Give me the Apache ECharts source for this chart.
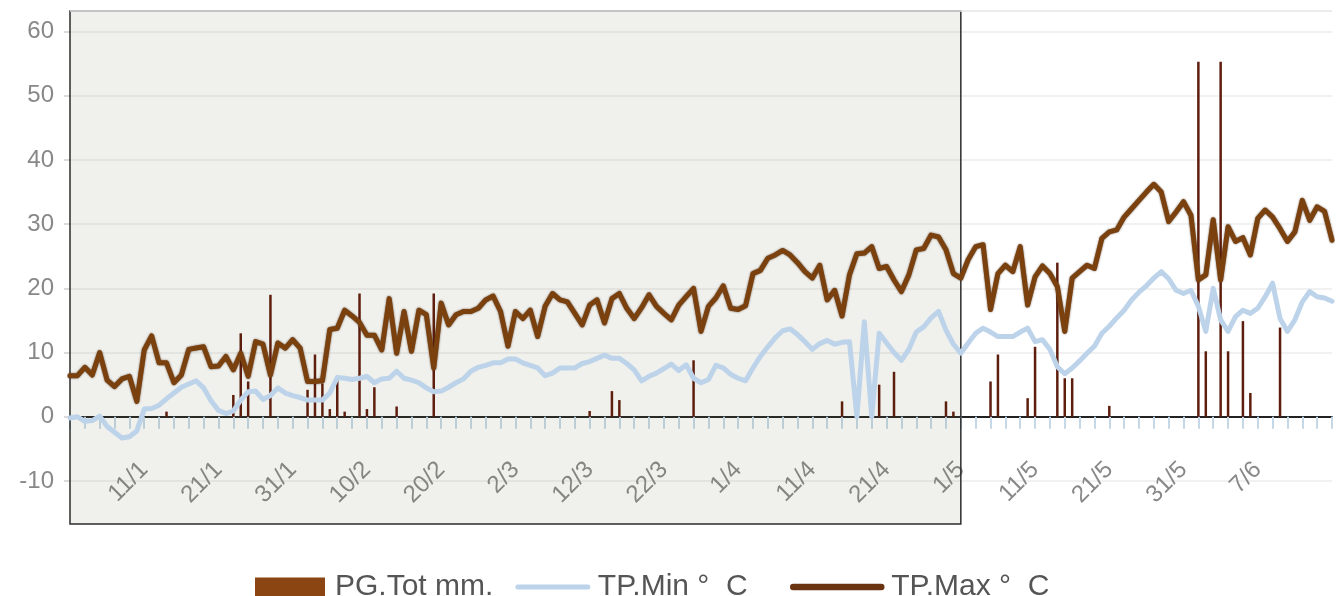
<!DOCTYPE html>
<html><head><meta charset="utf-8">
<script src="https://cdn.jsdelivr.net/npm/echarts@6/dist/echarts.min.js"></script>
<style>html,body{margin:0;padding:0;background:#fff}#c{width:1339px;height:596px}</style>
</head><body><div id="c"></div>
<script>
const categories = [
'1/1','2/1','3/1','4/1','5/1','6/1','7/1','8/1','9/1','10/1','11/1','12/1','13/1','14/1','15/1','16/1','17/1','18/1','19/1','20/1','21/1','22/1','23/1','24/1','25/1','26/1','27/1','28/1','29/1','30/1','31/1',
'1/2','2/2','3/2','4/2','5/2','6/2','7/2','8/2','9/2','10/2','11/2','12/2','13/2','14/2','15/2','16/2','17/2','18/2','19/2','20/2','21/2','22/2','23/2','24/2','25/2','26/2','27/2','28/2',
'1/3','2/3','3/3','4/3','5/3','6/3','7/3','8/3','9/3','10/3','11/3','12/3','13/3','14/3','15/3','16/3','17/3','18/3','19/3','20/3','21/3','22/3','23/3','24/3','25/3','26/3','27/3','28/3','29/3','30/3','31/3',
'1/4','2/4','3/4','4/4','5/4','6/4','7/4','8/4','9/4','10/4','11/4','12/4','13/4','14/4','15/4','16/4','17/4','18/4','19/4','20/4','21/4','22/4','23/4','24/4','25/4','26/4','27/4','28/4','29/4','30/4',
'1/5','2/5','3/5','4/5','5/5','6/5','7/5','8/5','9/5','10/5','11/5','12/5','13/5','14/5','15/5','16/5','17/5','18/5','19/5','20/5','21/5','22/5','23/5','24/5','25/5','26/5','27/5','28/5','29/5','30/5','31/5',
'1/6','1/6','2/6','2/6','3/6','4/6','4/6','5/6','6/6','7/6','8/6','9/6','10/6','11/6','12/6','13/6','14/6','15/6','16/6','17/6'
];

const tpMax = [
6.4,6.4,7.7,6.5,10.0,5.7,4.7,5.9,6.3,2.4,
10.4,12.6,8.4,8.4,5.3,6.5,10.5,10.7,10.9,7.8,
7.9,9.4,7.3,9.9,6.3,11.7,11.3,6.5,11.5,10.7,
12.0,10.7,5.5,5.5,5.6,13.6,13.8,16.6,15.7,14.7,
12.7,12.7,10.4,18.4,9.9,16.4,10.2,16.6,15.9,7.6,
17.7,14.3,15.9,16.4,16.4,16.9,18.2,18.8,16.4,11.0,
16.4,15.3,16.6,12.5,17.2,19.2,18.2,17.9,16.1,14.3,
17.4,18.2,14.6,18.4,19.2,16.9,15.3,17.0,19.0,17.2,
16.1,15.1,17.4,18.7,20.0,13.3,17.2,18.5,20.4,16.9,
16.7,17.3,22.3,22.8,24.7,25.2,25.9,25.2,24.0,22.6,
21.6,23.6,18.2,19.7,15.7,22.1,25.4,25.5,26.5,23.1,
23.4,21.3,19.5,22.1,26.0,26.2,28.3,28.0,26.0,22.3,
21.6,24.5,26.5,26.8,16.7,22.3,23.6,22.6,26.5,17.4,
21.8,23.5,22.3,20.3,13.3,21.6,22.6,23.6,23.1,27.8,
28.8,29.1,31.1,32.4,33.7,35.0,36.2,35.0,30.4,31.9,
33.5,31.4,21.3,22.1,30.7,21.3,29.6,27.3,27.9,25.2,
30.9,32.2,31.1,29.3,27.3,28.8,33.7,30.6,32.7,32.0,
27.5
];

const tpMin = [
-0.2,0.0,-0.7,-0.6,0.1,-1.5,-2.4,-3.3,-3.1,-2.2,
1.2,1.3,1.8,2.8,3.7,4.6,5.1,5.6,4.5,2.5,
1.0,0.5,0.9,2.6,3.9,4.0,2.7,3.3,4.5,3.7,
3.3,3.0,2.6,2.6,2.6,3.7,6.1,6.0,5.8,6.0,
6.3,5.3,5.9,6.0,7.1,6.0,5.7,5.3,4.5,3.9,
4.0,4.6,5.3,5.9,7.1,7.7,8.0,8.4,8.4,9.0,
9.0,8.4,8.0,7.6,6.4,6.8,7.6,7.6,7.6,8.3,
8.6,9.1,9.6,9.1,9.1,8.3,7.3,5.6,6.3,6.8,
7.5,8.2,7.2,8.1,6.0,5.3,5.8,8.0,7.6,6.6,
6.0,5.6,7.6,9.4,10.9,12.3,13.4,13.7,12.8,11.7,
10.5,11.4,11.9,11.3,11.6,11.7,0,14.8,0,13.0,
11.5,10.0,8.8,10.5,13.2,14.0,15.4,16.4,13.5,11.3,
9.9,11.5,13.0,13.8,13.2,12.5,12.5,12.5,13.2,13.8,
11.7,12.0,10.5,7.8,6.7,7.6,8.7,9.9,11.0,13.0,
14.1,15.4,16.6,18.2,19.4,20.4,21.6,22.6,21.5,19.7,
19.2,19.7,17.2,13.3,20.0,15.1,13.3,15.6,16.6,16.1,
16.9,18.7,20.8,15.3,13.3,15.1,17.9,19.5,18.7,18.5,
18.0
];

const pgTot = [
0,0,0,0,0,0,0,0,0,0,
0,0,0,0.8,0,0,0,0,0,0,
0,0,3.4,13.0,5.5,0,0,19.0,0,0,
0,0,4.2,9.7,5.2,1.2,5.7,0.8,0,19.2,
1.2,4.6,0,0,1.6,0,0,0,0,19.2,
0,0,0,0,0,0,0,0,0,0,
0,0,0,0,0,0,0,0,0,0,
0.9,0,0,4.0,2.6,0,0,0,0,0,
0,0,0,0,8.8,0,0,0,0,0,
0,0,0,0,0,0,0,0,0,0,
0,0,0,0,2.4,0,0,0,0,5.0,
0,7.0,0,0,0,0,0,0,2.4,0.8,
0,0,0,0,5.5,9.7,0,0,0,2.9,
10.9,0,0,24.0,6.0,6.0,0,0,0,0,
1.7,0,0,0,0,0,0,0,0,0,
0,0,55.3,10.2,0,55.3,10.2,0,14.9,3.7,
0,0,0,13.9,0,0,0,0,0,0,
0
];

const yTicks = [-10,0,10,20,30,40,50,60];
const shadeFrom = '1/1';
const shadeTo = '1/5';
const NAME_PG = 'PG.Tot mm.';
const NAME_MIN = 'TP.Min °  C';
const NAME_MAX = 'TP.Max °  C';
const FONT = 'Liberation Sans, Arial, sans-serif';

const legendText = {fontSize: 30, color: '#555', fontFamily: FONT, padding: [0, 0, 0, 5]};

const chart = echarts.init(document.getElementById('c'), null, {renderer:'canvas'});
chart.setOption({
  animation: false,
  backgroundColor: '#ffffff',
  textStyle: {fontFamily: FONT},
  grid: {left: 70, width: 1262, top: 11, bottom: 72, containLabel: false, outerBoundsMode: 'none'},
  legend: [
    {
      left: 250, top: 567, itemWidth: 70, itemHeight: 19, itemGap: 22,
      textStyle: legendText,
      data: [
        {name: NAME_PG, icon: 'rect', itemStyle: {color: '#8b4513', borderWidth: 0}},
        {name: NAME_MIN, itemStyle: {opacity: 0}, lineStyle: {width: 5, color: '#bcd3ea', cap: 'round'}}
      ]
    },
    {
      left: 785, top: 567, itemWidth: 88, itemHeight: 19,
      textStyle: legendText,
      data: [
        {name: NAME_MAX, itemStyle: {opacity: 0}, lineStyle: {width: 6.5, color: '#6a3410', cap: 'round'}}
      ]
    }
  ],
  xAxis: {
    type: 'category', data: categories, boundaryGap: false,
    axisLine: {onZero: true, lineStyle: {color: '#222', width: 2}},
    axisTick: {show: true, interval: 1, length: 12, lineStyle: {color: '#c4d8e8', width: 2}},
    axisLabel: {
      interval: function (i) { return i > 0 && i <= 160 && i % 10 === 0; },
      rotate: 45, margin: -58, fontSize: 24, color: '#888', fontFamily: FONT
    },
    splitLine: {show: false}
  },
  yAxis: {
    type: 'value', min: -16.7, max: 63.2,
    axisLine: {show: false},
    axisTick: {show: true, customValues: yTicks, length: 6, lineStyle: {color: '#cfcfcf', width: 1.5}},
    axisLabel: {customValues: yTicks, fontSize: 24, color: '#888', margin: 16, fontFamily: FONT},
    splitLine: {show: true, lineStyle: {color: '#ececec', width: 1.5}}
  },
  series: [
    {
      name: NAME_PG, type: 'bar', data: pgTot, barWidth: 2.5,
      itemStyle: {color: '#5e1e0e'},
      z: 2
    },
    {
      name: NAME_MIN, type: 'line', data: tpMin, symbol: 'none',
      lineStyle: {color: '#bcd3ea', width: 5, cap: 'round', join: 'round'},
      itemStyle: {color: '#bcd3ea'},
      markArea: {
        silent: true,
        itemStyle: {color: 'rgba(110,110,70,0.10)', borderColor: '#2d2d2d', borderWidth: 1.5},
        data: [[{xAxis: shadeFrom}, {xAxis: shadeTo}]]
      },
      markLine: {
        silent: true, symbol: 'none', label: {show: false},
        lineStyle: {color: '#e6e6e6', width: 1.5, type: 'solid'},
        data: [{yAxis: 63.2}]
      },
      z: 3
    },
    {
      name: NAME_MAX, type: 'line', data: tpMax, symbol: 'none',
      lineStyle: {color: '#7a410f', width: 5, cap: 'round', join: 'round',
        shadowColor: 'rgba(50,25,5,0.7)', shadowBlur: 2},
      itemStyle: {color: '#6e3810'},
      z: 4
    }
  ]
});
</script>
</body></html>
